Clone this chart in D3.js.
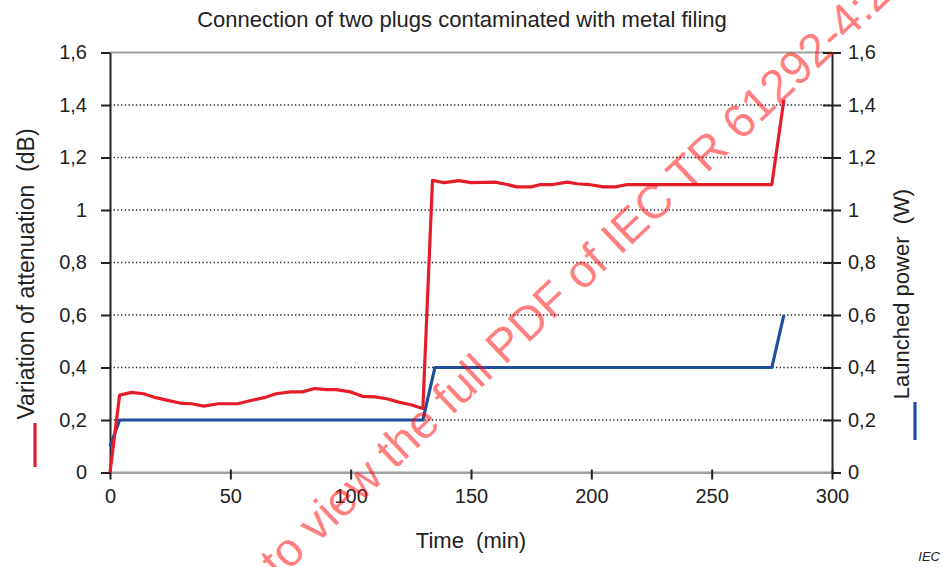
<!DOCTYPE html>
<html>
<head>
<meta charset="utf-8">
<script src="https://cdn.jsdelivr.net/npm/d3@7"></script>
<style>
  body { margin: 0; background: #fff; }
  svg { display: block; font-family: "Liberation Sans", Arial, sans-serif; }
  svg text { white-space: pre; }
</style>
</head>
<body>
<div id="chart"></div>
<script>
(function(){
  'use strict';

  //Chart data - time in minutes
  let redTime = [0, 4, 9, 14, 19, 24, 30, 34, 39, 45, 53, 59, 64, 69, 75, 80, 85, 90, 94, 100, 105, 110, 115, 120, 125, 130,
                 134, 139, 145, 150, 160, 165, 169, 175, 179, 184, 190, 194, 199, 205, 210, 215, 275, 280];
  //Variation of attenuation (dB)
  let redValues = [0, 0.295, 0.305, 0.3, 0.285, 0.275, 0.263, 0.262, 0.253, 0.262, 0.262, 0.275, 0.285, 0.3, 0.307, 0.307, 0.32, 0.316, 0.316, 0.307, 0.29, 0.288, 0.281, 0.268, 0.258, 0.244,
                   1.113, 1.104, 1.112, 1.104, 1.106, 1.097, 1.088, 1.088, 1.097, 1.097, 1.106, 1.1, 1.097, 1.088, 1.088, 1.097, 1.097, 1.42];
  //Launched power (W)
  let blueTime = [0, 4, 130, 135, 275, 280];
  let blueValues = [0.1, 0.2, 0.2, 0.4, 0.4, 0.6];

  let xTicks = [0, 50, 100, 150, 200, 250, 300];
  let yTicks = [0, 0.2, 0.4, 0.6, 0.8, 1, 1.2, 1.4, 1.6];

  let title = "Connection of two plugs contaminated with metal filing";
  let xTitle = "Time  (min)";
  let yTitleLeft = "Variation of attenuation  (dB)";
  let yTitleRight = "Launched power  (W)";
  let watermark = "Click to view the full PDF of IEC TR 61292-4:2017";

  //Dimensions
  let width = 943, height = 567;
  let plot = {left: 110, right: 832, top: 52.5, bottom: 472.5};

  let svg = d3.select("#chart").append("svg")
    .attr("width", width)
    .attr("height", height);

  //Scales - both y axes share the same range 0..1.6
  let x = d3.scaleLinear().domain([0, 300]).range([plot.left, plot.right]);
  let y = d3.scaleLinear().domain([0, 1.6]).range([plot.bottom, plot.top]);

  let fmt = function(d) { return d3.format("~g")(d).replace(".", ","); };

  //Dotted grid lines
  svg.append("g")
    .selectAll("line")
    .data(yTicks.filter(function(d) { return d > 0 && d < 1.6; }))
    .enter()
    .append("line")
      .attr("x1", plot.left)
      .attr("x2", plot.right)
      .attr("y1", function(d) { return y(d); })
      .attr("y2", function(d) { return y(d); })
      .attr("stroke", "#222")
      .attr("stroke-width", 1.3)
      .attr("stroke-dasharray", "1.3,2.4");

  //Top and bottom frame lines (gray)
  [0, 1.6].forEach(function(v) {
    svg.append("line")
      .attr("x1", plot.left).attr("x2", plot.right)
      .attr("y1", y(v)).attr("y2", y(v))
      .attr("stroke", "#a0a0a0")
      .attr("stroke-width", 2);
  });

  //Left axis
  let leftAxis = svg.append("g")
    .attr("transform", "translate(" + plot.left + ",0)")
    .call(d3.axisLeft(y).tickValues(yTicks).tickFormat(fmt).tickSize(9).tickSizeOuter(0).tickPadding(14));

  //Right axis
  let rightAxis = svg.append("g")
    .attr("transform", "translate(" + plot.right + ",0)")
    .call(d3.axisRight(y).tickValues(yTicks).tickFormat(fmt).tickSize(9).tickSizeOuter(0).tickPadding(7));
  rightAxis.selectAll(".tick line").attr("x1", -9);

  //Bottom axis
  let bottomAxis = svg.append("g")
    .attr("transform", "translate(0," + plot.bottom + ")")
    .call(d3.axisBottom(x).tickValues(xTicks).tickFormat(d3.format("d")).tickSize(7).tickSizeOuter(0).tickPadding(9));
  bottomAxis.selectAll(".tick line").attr("y1", -3);
  bottomAxis.select(".domain").attr("stroke", "#a0a0a0").attr("stroke-width", 2);

  [leftAxis, rightAxis].forEach(function(a) {
    a.select(".domain").attr("stroke", "#222").attr("stroke-width", 2);
  });
  [leftAxis, rightAxis, bottomAxis].forEach(function(a) {
    a.selectAll(".tick line").attr("stroke", "#222").attr("stroke-width", 2);
    a.selectAll(".tick text")
      .attr("fill", "#222")
      .style("font-size", "20px")
      .style("font-family", "Liberation Sans, Arial, sans-serif");
  });

  //Lines
  let line = d3.line()
    .x(function(d) { return x(d[0]); })
    .y(function(d) { return y(d[1]); });

  let redData = d3.zip(redTime, redValues);
  let blueData = d3.zip(blueTime, blueValues);

  svg.append("path")
    .datum(blueData)
    .attr("fill", "none")
    .attr("stroke", "#1f4e9e")
    .attr("stroke-width", 3.2)
    .attr("stroke-linejoin", "round")
    .attr("d", line);

  svg.append("path")
    .datum(redData)
    .attr("fill", "none")
    .attr("stroke", "#e51d2a")
    .attr("stroke-width", 3.2)
    .attr("stroke-linejoin", "round")
    .attr("d", line);

  //Title
  svg.append("text")
    .attr("x", 462)
    .attr("y", 27)
    .attr("text-anchor", "middle")
    .attr("fill", "#222")
    .style("font-size", "22px")
    .text(title);

  //X axis title
  svg.append("text")
    .attr("x", (plot.left + plot.right) / 2)
    .attr("y", 548)
    .attr("text-anchor", "middle")
    .attr("fill", "#222")
    .style("font-size", "22px")
    .text(xTitle);

  //Left y title with red legend mark
  svg.append("text")
    .attr("transform", "translate(34,274) rotate(-90)")
    .attr("text-anchor", "middle")
    .attr("fill", "#222")
    .style("font-size", "23px")
    .text(yTitleLeft);
  svg.append("line")
    .attr("x1", 35).attr("x2", 35)
    .attr("y1", 423).attr("y2", 467)
    .attr("stroke", "#e51d2a")
    .attr("stroke-width", 3.2);

  //Right y title with blue legend mark
  svg.append("text")
    .attr("transform", "translate(909,294) rotate(-90)")
    .attr("text-anchor", "middle")
    .attr("fill", "#222")
    .style("font-size", "22px")
    .text(yTitleRight);
  svg.append("line")
    .attr("x1", 915).attr("x2", 915)
    .attr("y1", 402).attr("y2", 440)
    .attr("stroke", "#1f4e9e")
    .attr("stroke-width", 3.2);

  //IEC mark
  svg.append("text")
    .attr("x", 940)
    .attr("y", 561)
    .attr("text-anchor", "end")
    .attr("fill", "#222")
    .style("font-size", "13px")
    .style("font-style", "italic")
    .text("IEC");

  //Watermark - "to" starts near the bottom edge
  let wm = svg.append("text")
    .attr("fill", "#ff0000")
    .attr("fill-opacity", 0.5)
    .style("font-size", "47px")
    .text(watermark);
  let clickLen = wm.node().getSubStringLength(0, 6);
  wm.attr("transform", "translate(279,580) rotate(-43.5)")
    .attr("x", -clickLen)
    .attr("y", 0);

})();
</script>
</body>
</html>
